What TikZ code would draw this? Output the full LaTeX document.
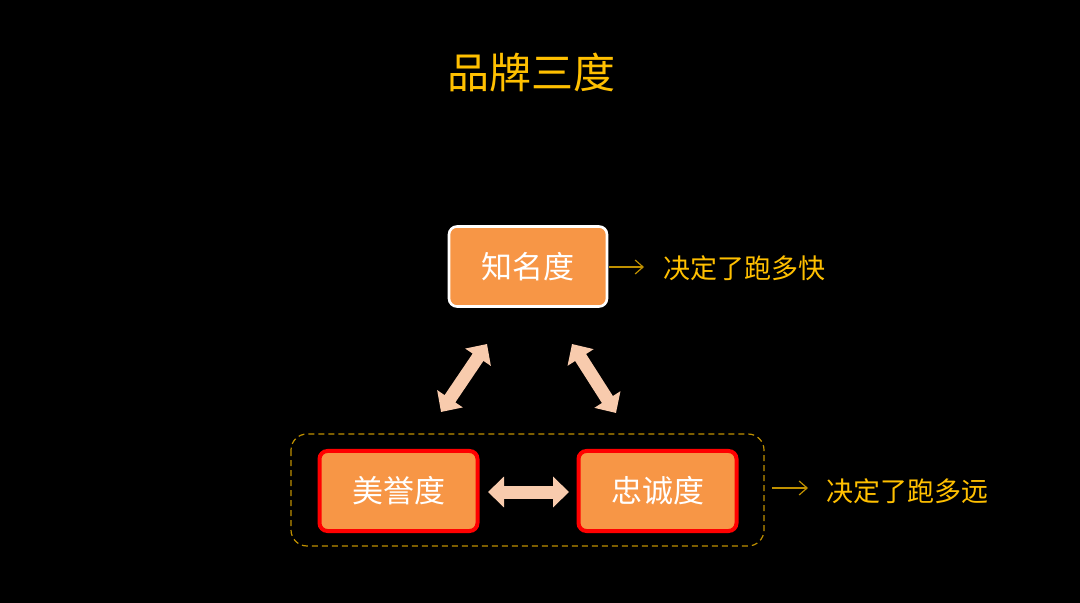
\documentclass[tikz,border=0pt]{standalone}
\usepackage{fontspec}
\setmainfont{Noto Sans CJK SC}
\usetikzlibrary{arrows.meta}
\definecolor{gold}{HTML}{FFC000}
\definecolor{darkgold}{HTML}{BF9000}
\definecolor{boxorange}{HTML}{F79646}
\definecolor{peach}{HTML}{F8CBAD}
\tikzset{
  pxbox/.style={fill=boxorange, rounded corners=4pt, minimum width=79pt, minimum height=40pt, inner sep=0pt, text=white, font=\fontsize{15.5pt}{18pt}\selectfont},
  topbox/.style={pxbox, draw=white, line width=1.3pt},
  redbox/.style={pxbox, draw=red, line width=2pt},
  sidetext/.style={text=gold, font=\fontsize{13.5pt}{16pt}\selectfont, anchor=west, inner sep=0pt},
  thinarrow/.style={draw=darkgold, line width=0.6pt, -{Straight Barb[length=4pt,width=7pt]}},
  blockarrow/.style={draw=peach, line width=6.5pt, {Triangle[length=8pt,width=15pt]}-{Triangle[length=8pt,width=15pt]}}
}
\begin{document}
\begin{tikzpicture}[x=0.5pt,y=-0.5pt]
\fill[black] (0,0) rectangle (1080,603);
\useasboundingbox (0,0) rectangle (1080,603);
\node[text=gold, font=\fontsize{21pt}{25pt}\selectfont, inner sep=0pt] (title) at (531,72) {品牌三度};
\draw[darkgold, dash pattern=on 3pt off 2pt, line width=0.6pt, rounded corners=8pt] (291,434) rectangle (764,546);
\node[topbox] (zhi) at (528,266.5) {知名度};
\node[redbox] (mei) at (398.5,491) {美誉度};
\node[redbox] (zhong) at (657.5,491) {忠诚度};
\coordinate (k1) at (609,267);
\coordinate (k2) at (644,267);
\draw[thinarrow] (k1) -- (k2);
\node[sidetext] (kuai) at (663,268) {决定了跑多快};
\coordinate (y1) at (772,488);
\coordinate (y2) at (808,488);
\draw[thinarrow] (y1) -- (y2);
\node[sidetext] (yuan) at (826,491) {决定了跑多远};
\coordinate (a1) at (441,412);
\coordinate (a2) at (487,344);
\coordinate (b1) at (572,344);
\coordinate (b2) at (616,413);
\coordinate (c1) at (488,492);
\coordinate (c2) at (569,492);
\draw[blockarrow] (a1) -- (a2);
\draw[blockarrow] (b1) -- (b2);
\draw[blockarrow] (c1) -- (c2);
\end{tikzpicture}
\end{document}
